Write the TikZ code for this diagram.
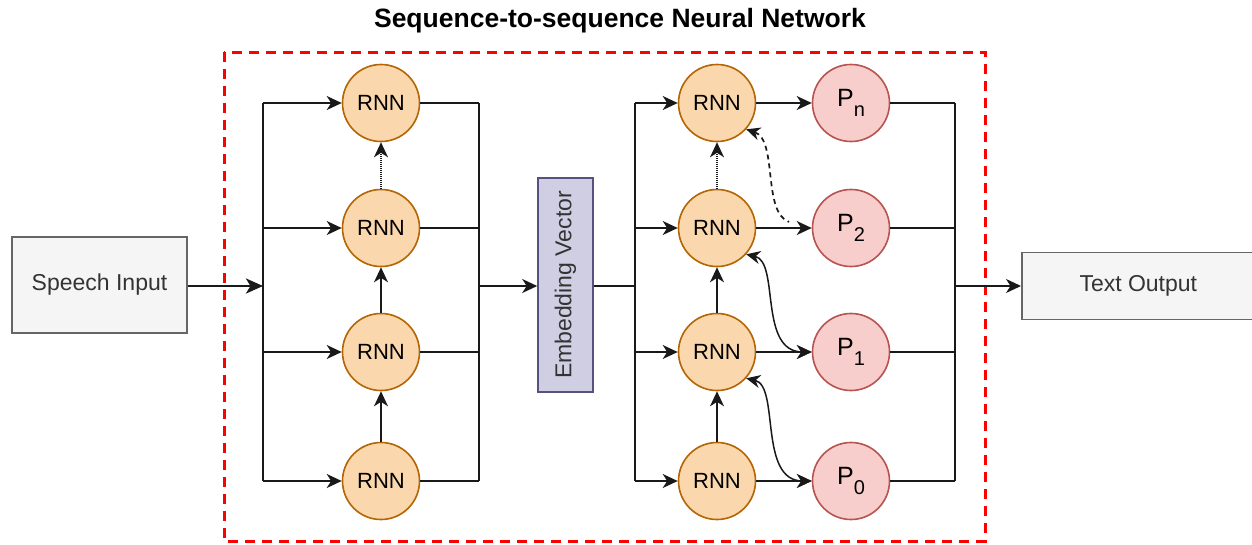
\documentclass[tikz,border=0pt]{standalone}
\usepackage{fontspec}
\setmainfont{Liberation Sans}
\usetikzlibrary{arrows.meta}
\definecolor{rnnfill}{HTML}{FAD7AC}
\definecolor{rnnline}{HTML}{B46504}
\definecolor{pfill}{HTML}{F8CECC}
\definecolor{pline}{HTML}{B85450}
\definecolor{embfill}{HTML}{D0CEE2}
\definecolor{embline}{HTML}{56517E}
\definecolor{boxfill}{HTML}{F5F5F5}
\definecolor{boxline}{HTML}{666666}
\definecolor{boxtext}{HTML}{333333}
\definecolor{redline}{HTML}{FF0000}
\newcommand{\psub}[1]{P\raisebox{-10pt}{\fontsize{20}{20}\selectfont #1}}
\begin{document}
\begin{tikzpicture}[x=1pt,y=-1pt,
  rnn/.style={circle,draw=rnnline,fill=rnnfill,line width=1.6pt,minimum size=77pt,inner sep=0pt,font=\fontsize{22}{24}\selectfont},
  pnode/.style={circle,draw=pline,fill=pfill,line width=1.6pt,minimum size=77pt,inner sep=0pt,font=\fontsize{25}{28}\selectfont},
  iobox/.style={rectangle,draw=boxline,fill=boxfill,line width=1.6pt,inner sep=0pt,text=boxtext,font=\fontsize{23}{26}\selectfont},
  emb/.style={rectangle,draw=embline,fill=embfill,line width=1.6pt,inner sep=0pt,minimum width=55pt,minimum height=214pt,text=boxtext,font=\fontsize{23}{26}\selectfont},
  conn/.style={line width=1.8pt,draw=black!90},
  arr/.style={conn,-{Stealth[length=15pt,width=14pt,inset=4.5pt]}},
  dotarr/.style={arr,dash pattern=on 1pt off 1pt},
  curvarr/.style={line width=1.5pt,draw=black!90,{Stealth[length=14pt,width=13pt,inset=4.5pt]}-{Stealth[length=14pt,width=13pt,inset=4.5pt]}},
  dashcurv/.style={line width=1.7pt,draw=black!90,dash pattern=on 5pt off 4pt,{Stealth[length=14pt,width=13pt,inset=4.5pt]}-}
]
\useasboundingbox (0,0) rectangle (1252,544);
\fill[white] (0,0) rectangle (1252,544);

% title
\node (title) at (620,21) {\fontsize{26.5}{28}\selectfont\bfseries Sequence-to-sequence Neural Network};

% red dashed frame
\draw[redline,line width=3pt,dash pattern=on 10pt off 7pt] (224,52) rectangle (985,541);

% io boxes
\node[iobox,minimum width=175pt,minimum height=96pt] (in) at (99.5,285) {Speech Input};
\node[iobox,minimum width=233pt,minimum height=67pt,anchor=west] (out) at (1021,286) {Text Output};

% left RNNs
\node[rnn] (a1) at (381,103) {RNN};
\node[rnn] (a2) at (381,228) {RNN};
\node[rnn] (a3) at (381,352) {RNN};
\node[rnn] (a4) at (381,481) {RNN};

% embedding
\node[emb] (e) at (565.5,285) {\rotatebox{90}{Embedding Vector}};

% right RNNs
\node[rnn] (b1) at (717,103) {RNN};
\node[rnn] (b2) at (717,228) {RNN};
\node[rnn] (b3) at (717,352) {RNN};
\node[rnn] (b4) at (717,481) {RNN};

% P nodes
\node[pnode] (p3) at (851,103) {\psub{n}};
\node[pnode] (p2) at (851,228) {\psub{2}};
\node[pnode] (p1) at (851,352) {\psub{1}};
\node[pnode] (p0) at (851,481) {\psub{0}};

% bus coordinates
\coordinate (lb1) at (263,103); \coordinate (lb4) at (263,481); \coordinate (lbm) at (263,286);
\coordinate (rb1) at (479,103); \coordinate (rb4) at (479,481); \coordinate (rbm) at (479,286);
\coordinate (mb1) at (635,103); \coordinate (mb4) at (635,481); \coordinate (mbm) at (635,286);
\coordinate (ob1) at (955,103); \coordinate (ob4) at (955,481); \coordinate (obm) at (955,286);

% input arrow
\draw[conn,line width=2.8pt,-{Stealth[length=17pt,width=15pt,inset=4.5pt]}] (in.east|-lbm) -- (lbm);

% left bus
\draw[conn] (lb1) -- (lb4);
\foreach \n in {a1,a2,a3,a4} \draw[arr] (lb1|-\n) -- (\n.west);
\foreach \n in {a1,a2,a3,a4} \draw[conn] (\n.east) -- (rb1|-\n);
\draw[conn] (rb1) -- (rb4);
\draw[arr] (rbm) -- (e.west|-rbm);

% left vertical
\draw[arr] (a4.north) -- (a3.south);
\draw[arr] (a3.north) -- (a2.south);
\draw[dotarr] (a2.north) -- (a1.south);

% embedding to right bus
\draw[conn] (e.east|-mbm) -- (mbm);
\draw[conn] (mb1) -- (mb4);
\foreach \n in {b1,b2,b3,b4} \draw[arr] (mb1|-\n) -- (\n.west);

% right vertical
\draw[arr] (b4.north) -- (b3.south);
\draw[arr] (b3.north) -- (b2.south);
\draw[dotarr] (b2.north) -- (b1.south);

% RNN to P
\draw[arr] (b1.east) -- (p3.west);
\draw[arr] (b2.east) -- (p2.west);
\draw[arr] (b3.east) -- (p1.west);
\draw[arr] (b4.east) -- (p0.west);

% curves
\coordinate (dend) at (789,222);
\draw[dashcurv] (b1.-42) .. controls (778,140) and (762,212) .. (dend);
\draw[curvarr] (b2.-42) .. controls (780,262) and (758,352) .. (p1.west);
\draw[curvarr] (b3.-42) .. controls (780,386) and (758,481) .. (p0.west);

% output bus
\foreach \n in {p3,p2,p1,p0} \draw[conn] (\n.east) -- (ob1|-\n);
\draw[conn] (ob1) -- (ob4);
\draw[arr] (obm) -- (out.west);
\end{tikzpicture}
\end{document}
